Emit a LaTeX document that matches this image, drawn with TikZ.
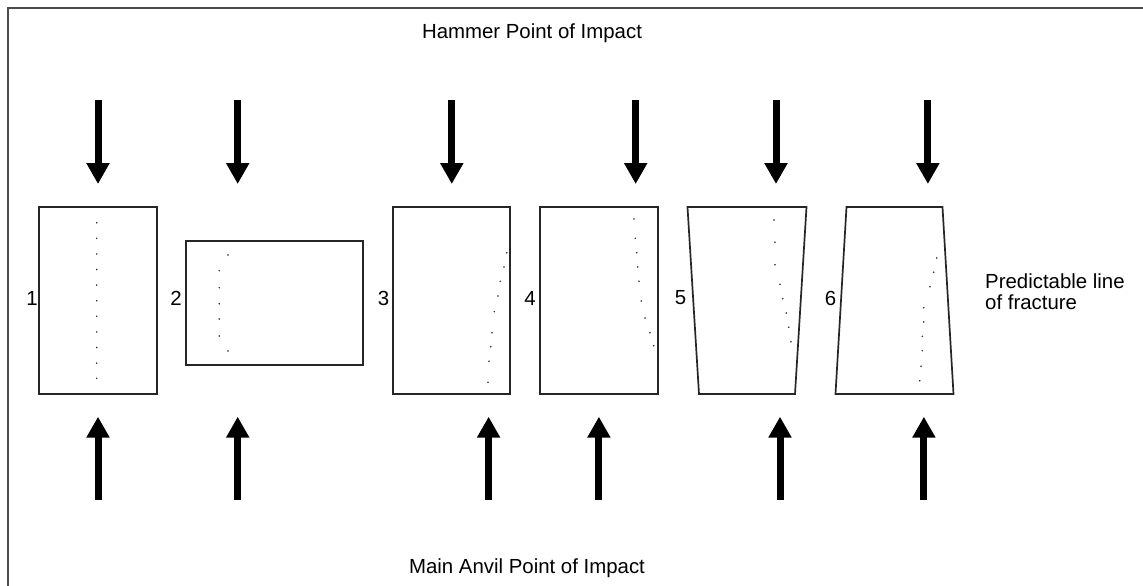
\documentclass[tikz,border=0pt]{standalone}
\usepackage{fontspec}
\setmainfont{Liberation Sans}
\usetikzlibrary{arrows.meta}
\begin{document}
\begin{tikzpicture}[x=1pt,y=-1pt,
  txt/.style={font=\fontsize{20.4}{21}\selectfont, inner sep=0pt, text=black},
  specimen/.style={draw=black!85, line width=1.3pt, line join=miter},
  slanted/.style={specimen, line width=1.7pt},
  force/.style={line width=7pt, -{Triangle[length=21pt,width=22pt]}},
  frame/.style={draw=black!70, line width=1.8pt},
  dotp/.style={fill=black!85}]
\useasboundingbox (0,0) rectangle (1143,586);
\fill[white] (0,0) rectangle (1143,586);
% frame
\draw[frame] (8,586) -- (8,8) -- (1143,8);
% titles
\node[txt] (hammer) at (532,33) {Hammer Point of Impact};
\node[txt] (anvil) at (527,568) {Main Anvil Point of Impact};
\node[txt, anchor=west, align=left] (pred) at (985,292) {Predictable line\\of fracture};
% specimens
\draw[specimen] (39,207) rectangle (157,394);
\draw[specimen] (186,241) rectangle (363,365);
\draw[specimen] (393,207) rectangle (510,394);
\draw[specimen] (540,207) rectangle (658,394);
\draw[slanted] (687.5,207) -- (806.5,207) -- (795,394) -- (699,394) -- cycle;
\draw[slanted] (846.5,207) -- (942.5,207) -- (953.5,394) -- (835.5,394) -- cycle;
% numbers
\node[txt] (n1) at (32,298) {1};
\node[txt] (n2) at (176,298) {2};
\node[txt] (n3) at (383.5,298) {3};
\node[txt] (n4) at (530,298) {4};
\node[txt] (n5) at (680.5,298) {5};
\node[txt] (n6) at (830.5,298) {6};
% fracture dots
\foreach \y in {222.7,238.3,253.9,269.5,285.1,300.7,316.3,331.9,347.5,363.1,378.3}
  \fill[dotp] (96.7,\y) circle (0.85);
\foreach \p in {(228,255),(219.3,270.7),(219.3,287.7),(219.3,303.7),(219.3,319),(219.3,336),(228,351)}
  \fill[dotp] \p circle (0.85);
\foreach \p in {(506.7,252.7),(504,267),(500.3,281.3),(498,296),(494.3,311.7),(492,332.7),(490.7,346.7),(489,361.3),(488,382.3)}
  \fill[dotp] \p circle (0.85);
\foreach \p in {(634,219),(635.3,238.3),(636.7,252.7),(637.7,267),(639,281.3),(641.3,301),(645,318),(650,332.7),(653.7,345.7)}
  \fill[dotp] \p circle (0.85);
\foreach \p in {(774,220),(775,242.3),(775,264.7),(780,284.3),(782.7,298.7),(786.3,313),(788.7,327.3),(791,341.7)}
  \fill[dotp] \p circle (0.85);
\foreach \p in {(936.7,258),(933.7,272.3),(930,286.7),(923.7,307.7),(923.7,322),(922.3,336.3),(922.3,350.7),(921,366.3),(919.7,380.7)}
  \fill[dotp] \p circle (0.85);
% hammer arrows (down)
\foreach \x in {98,237.7,451.8,635.7,776,927.9}
  \draw[force] (\x,100) -- (\x,184);
% anvil arrows (up)
\foreach \x in {98,237.7,488.6,598.9,780,923.9}
  \draw[force] (\x,500) -- (\x,416.7);
\end{tikzpicture}
\end{document}
